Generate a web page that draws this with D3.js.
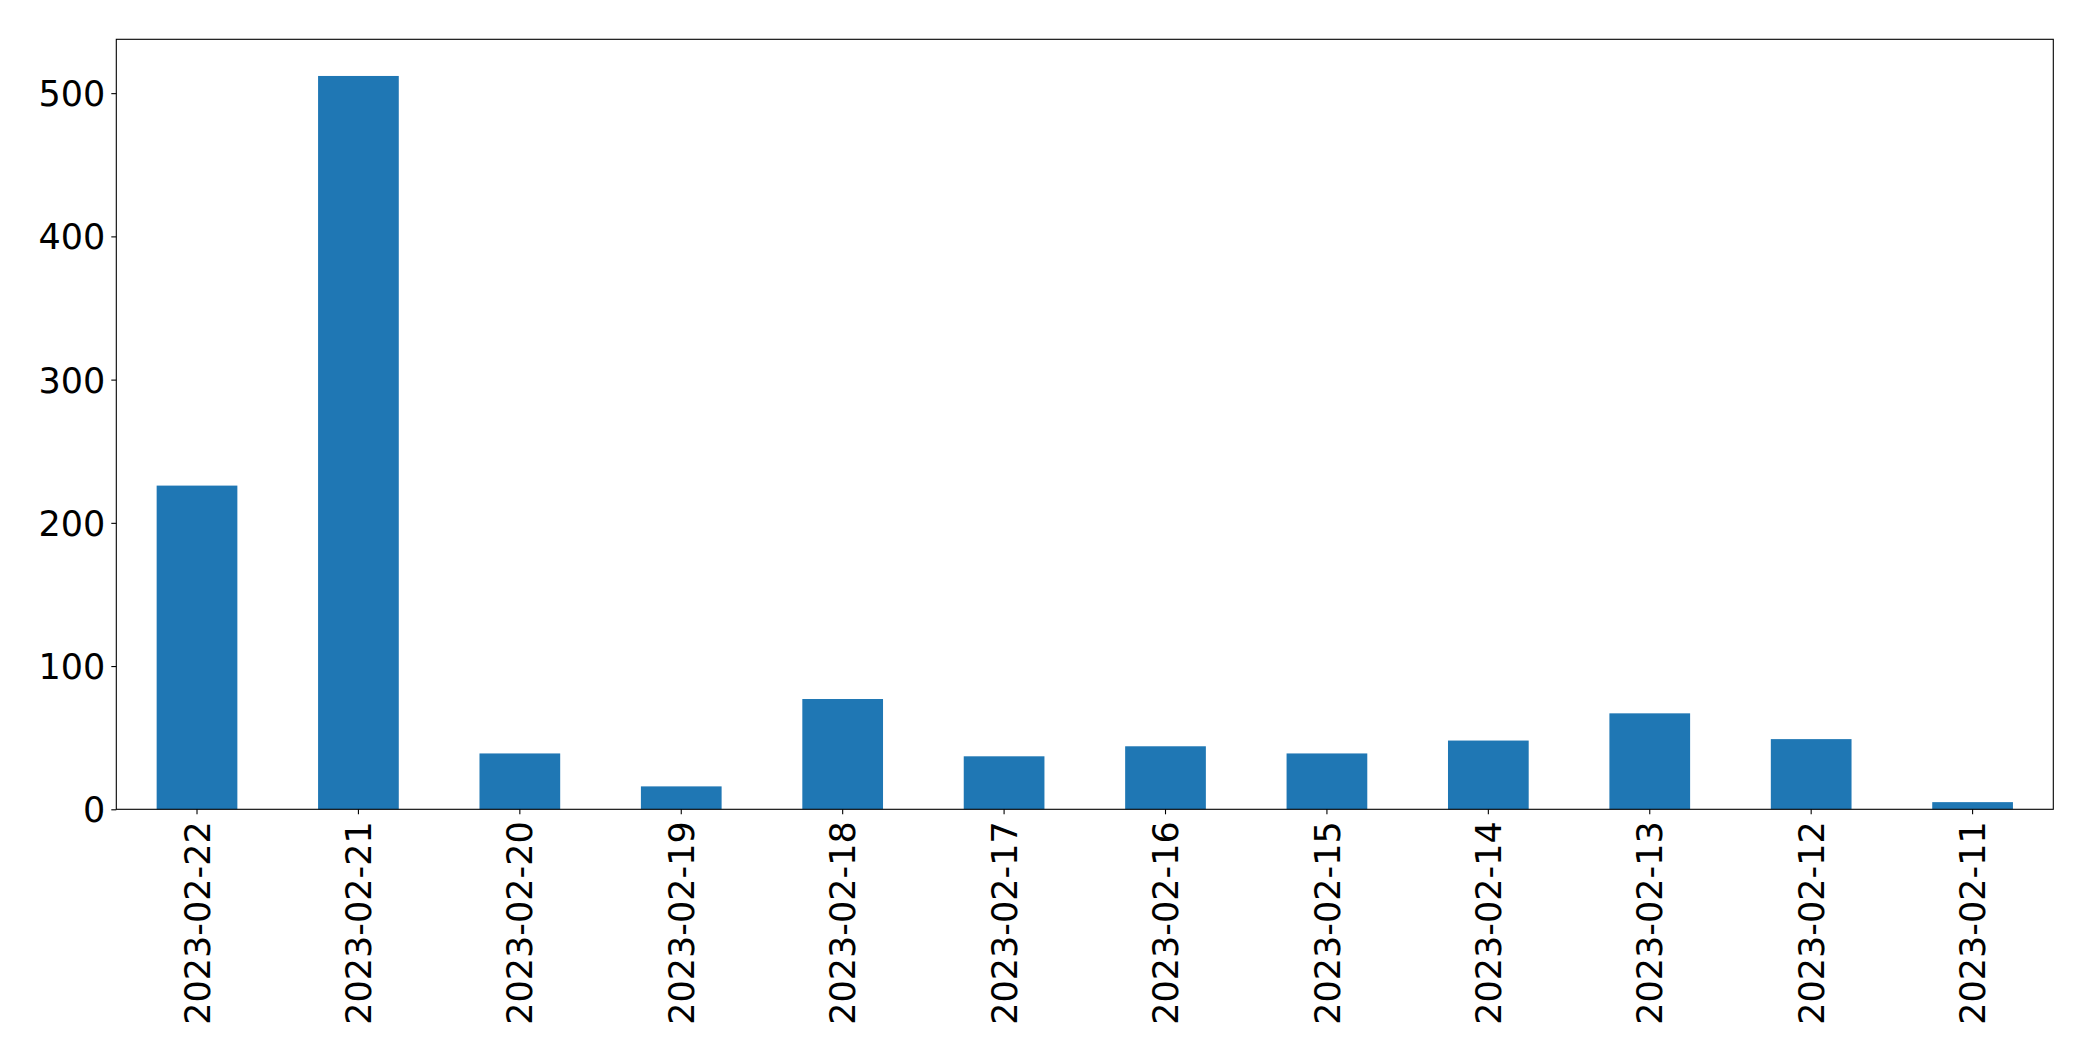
<!DOCTYPE html>
<html>
<head>
<meta charset="utf-8">
<script src="https://cdn.jsdelivr.net/npm/d3@7"></script>
<style>
  html, body { margin: 0; padding: 0; background: #fff; }
  svg { display: block; }
</style>
</head>
<body>
<svg id="chart" width="2093" height="1061"></svg>
<script>
const categories = ["2023-02-22","2023-02-21","2023-02-20","2023-02-19","2023-02-18","2023-02-17","2023-02-16","2023-02-15","2023-02-14","2023-02-13","2023-02-12","2023-02-11"];
const values = [226, 512, 39, 16, 77, 37, 44, 39, 48, 67, 49, 5];
const yTicks = [0, 100, 200, 300, 400, 500];

const margin = {left: 116.3, top: 39.3, right: 2093 - 2053.3, bottom: 1061 - 809.3};
const W = 2093, H = 1061;
const svg = d3.select("#chart");
const iw = W - margin.left - margin.right;
const ih = H - margin.top - margin.bottom;
const g = svg.append("g").attr("transform", `translate(${margin.left},${margin.top})`);

const x = d3.scaleBand().domain(categories).range([0, iw]).paddingInner(0.5).paddingOuter(0.25);
const y = d3.scaleLinear().domain([0, d3.max(values) * 1.05]).range([ih, 0]);

g.selectAll("rect.bar").data(values).enter().append("rect")
  .attr("class", "bar")
  .attr("x", (d, i) => x(categories[i]))
  .attr("width", x.bandwidth())
  .attr("y", d => y(d))
  .attr("height", d => y(0) - y(d))
  .attr("fill", "#1f77b4");

const font = "'DejaVu Sans', sans-serif";
const fs = 35;

const yAxis = g.append("g").call(d3.axisLeft(y).tickValues(yTicks).tickSize(5).tickPadding(6).tickFormat(d3.format("d")));
yAxis.select(".domain").remove();
yAxis.selectAll(".tick line").attr("stroke", "#000").attr("stroke-width", 1.1);
yAxis.selectAll(".tick text").attr("font-family", font).attr("font-size", fs).attr("fill", "#000").attr("dy", "0.36em");

const xAxis = g.append("g").attr("transform", `translate(0,${ih})`)
  .call(d3.axisBottom(x).tickSize(5).tickPadding(6));
xAxis.select(".domain").remove();
xAxis.selectAll(".tick line").attr("stroke", "#000").attr("stroke-width", 1.1);
xAxis.selectAll(".tick text")
  .attr("font-family", font).attr("font-size", fs).attr("fill", "#000")
  .attr("text-anchor", "end")
  .attr("transform", "rotate(-90)")
  .attr("x", -12).attr("y", 0).attr("dy", "0.36em");

g.append("rect").attr("x", 0).attr("y", 0).attr("width", iw).attr("height", ih)
  .attr("fill", "none").attr("stroke", "#000").attr("stroke-width", 1.1);
</script>
</body>
</html>
